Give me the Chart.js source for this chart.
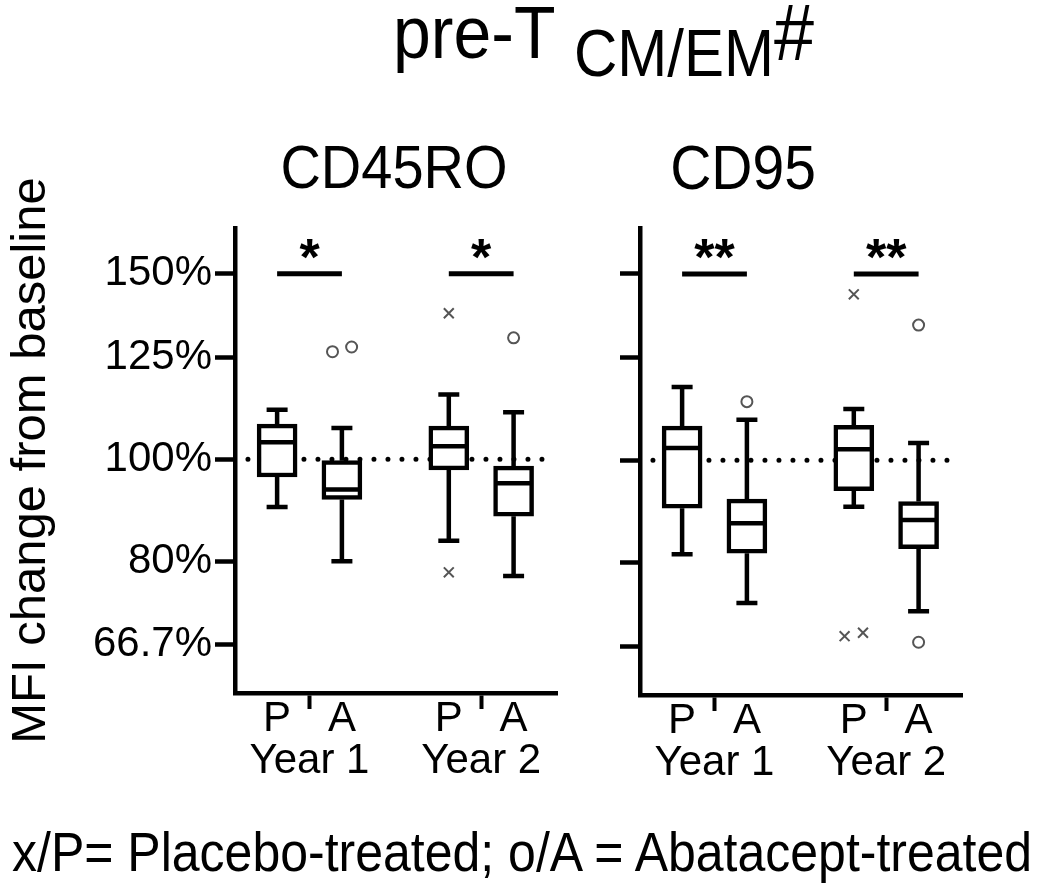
<!DOCTYPE html>
<html>
<head>
<meta charset="utf-8">
<script src="https://cdn.jsdelivr.net/npm/chart.js@4.4.1/dist/chart.umd.min.js"></script>
<style>
body { margin: 0; background: #fff; font-family: "Liberation Sans", Arial, sans-serif; }
#page { position: relative; width: 1050px; height: 888px; overflow: hidden; background: #fff; }
.txt { position: absolute; white-space: nowrap; line-height: 1; color: #000; transform-origin: 0 85%; transform: scaleY(1.1); }
.ctr { transform-origin: 50% 85%; transform: translateX(-50%) scaleY(1.1); }
canvas { position: absolute; }
</style>
</head>
<body>
<div id="page">
  <canvas id="cd45" width="580" height="660" style="left:0px;top:140px"></canvas>
  <canvas id="cd95" width="400" height="660" style="left:590px;top:140px"></canvas>

  <div class="txt" style="left:393px;top:0px;font-size:68px">pre-T</div>
  <div class="txt" style="left:574px;top:26px;font-size:60px">CM/EM</div>
  <div class="txt" style="left:774px;top:-1px;font-size:72px">#</div>

  <div class="txt ctr" style="left:394px;top:141px;font-size:56px">CD45RO</div>
  <div class="txt ctr" style="left:743px;top:141px;font-size:57px">CD95</div>

  <div class="txt" style="left:12px;top:829px;font-size:50px">x/P= Placebo-treated; o/A = Abatacept-treated</div>
</div>

<script>
// box order: Year 1 P, Year 1 A, Year 2 P, Year 2 A
const xPos = [0, 1, 2.65, 3.65];
const xTickVals = [0, 0.5, 1, 2.65, 3.15, 3.65];
const xTickLabels = ['P', ['', 'Year 1'], 'A', 'P', ['', 'Year 2'], 'A'];
const xTickMarks = [false, true, false, false, true, false];
const yTickVals = [2 / 3, 0.8, 1, 1.25, 1.5];
const yTickLabels = ['66.7%', '80%', '100%', '125%', '150%'];
const sigPairs = [[0, 1], [2.65, 3.65]];
const sigLevel = 1.5;

// CD45RO
const cd45Min = [0.901, 0.800, 0.837, 0.775];
const cd45Q1  = [0.962, 0.916, 0.977, 0.883];
const cd45Med = [1.038, 0.936, 1.029, 0.949];
const cd45Q3  = [1.080, 0.997, 1.075, 0.985];
const cd45Max = [1.114, 1.071, 1.152, 1.108];
const cd45PlaceboOut = [{x: 2.65, y: 1.376}, {x: 2.65, y: 0.781}];
const cd45AbataOut = [{x: 0.855, y: 1.265}, {x: 1.15, y: 1.278}, {x: 3.65, y: 1.304}];
const cd45Stars = ['*', '*'];

// CD95
const cd95Min = [0.815, 0.733, 0.904, 0.720];
const cd95Q1  = [0.901, 0.817, 0.936, 0.825];
const cd95Med = [1.027, 0.872, 1.024, 0.878];
const cd95Q3  = [1.077, 0.919, 1.079, 0.914];
const cd95Max = [1.173, 1.092, 1.118, 1.038];
const cd95PlaceboOut = [{x: 2.65, y: 1.435}, {x: 2.508, y: 0.682}, {x: 2.792, y: 0.687}];
const cd95AbataOut = [{x: 1, y: 1.136}, {x: 3.65, y: 1.342}, {x: 3.65, y: 0.673}];
const cd95Stars = ['**', '**'];

const FONT = '"Liberation Sans", Arial, sans-serif';

function boxExtras(min, med, max, stars) {
  return {
    id: 'boxExtras',
    afterDatasetsDraw(chart) {
      const ctx = chart.ctx;
      const x = chart.scales.x, y = chart.scales.y;
      ctx.save();
      ctx.strokeStyle = '#000';
      ctx.fillStyle = '#000';
      ctx.lineWidth = 4.5;
      xPos.forEach(function(v, i) {
        const px = x.getPixelForValue(v);
        const q1 = y.getPixelForValue(chart.data.datasets[1].data[i].y[0]);
        const q3 = y.getPixelForValue(chart.data.datasets[1].data[i].y[1]);
        const lo = y.getPixelForValue(min[i]);
        const hi = y.getPixelForValue(max[i]);
        const md = y.getPixelForValue(med[i]);
        ctx.beginPath();
        ctx.moveTo(px, q3); ctx.lineTo(px, hi);
        ctx.moveTo(px - 10.5, hi); ctx.lineTo(px + 10.5, hi);
        ctx.moveTo(px, q1); ctx.lineTo(px, lo);
        ctx.moveTo(px - 10.5, lo); ctx.lineTo(px + 10.5, lo);
        ctx.moveTo(px - 18, md); ctx.lineTo(px + 18, md);
        ctx.stroke();
      });
      ctx.lineWidth = 5;
      ctx.font = 'bold 52px ' + FONT;
      ctx.textAlign = 'center';
      ctx.textBaseline = 'alphabetic';
      sigPairs.forEach(function(pr, k) {
        const x0 = x.getPixelForValue(pr[0]);
        const x1 = x.getPixelForValue(pr[1]);
        const yy = y.getPixelForValue(sigLevel);
        ctx.beginPath();
        ctx.moveTo(x0, yy); ctx.lineTo(x1, yy);
        ctx.stroke();
        ctx.fillText(stars[k], (x0 + x1) / 2, yy + 1);
      });
      ctx.restore();
    }
  };
}

function makeChart(id, q1, med, q3, min, max, pOut, aOut, stars, showLabels, yWidth, xHeight, padRight) {
  const boxes = xPos.map(function(v, i) { return {x: v, y: [q1[i], q3[i]]}; });
  return new Chart(document.getElementById(id), {
    type: 'bar',
    data: {
      datasets: [
        {
          type: 'line',
          data: [{x: -0.45, y: 1}, {x: 4.1, y: 1}],
          borderColor: '#000',
          borderWidth: 5,
          borderDash: [0, 14],
          borderCapStyle: 'round',
          pointRadius: 0,
          order: 3
        },
        {
          type: 'bar',
          data: boxes,
          backgroundColor: '#fff',
          borderColor: '#000',
          borderWidth: 4.5,
          borderSkipped: false,
          barThickness: 40,
          order: 2
        },
        {
          type: 'scatter',
          data: pOut,
          pointStyle: 'crossRot',
          pointRadius: 7,
          borderColor: '#555',
          borderWidth: 2,
          order: 1
        },
        {
          type: 'scatter',
          data: aOut,
          pointStyle: 'circle',
          pointRadius: 5.5,
          backgroundColor: '#fff',
          borderColor: '#555',
          borderWidth: 2,
          order: 1
        }
      ]
    },
    options: {
      responsive: false,
      animation: false,
      events: [],
      layout: { padding: { left: 0, right: padRight, top: 88, bottom: 0 } },
      plugins: { legend: { display: false }, tooltip: { enabled: false } },
      scales: {
        x: {
          type: 'linear',
          min: -0.65,
          max: 4.32,
          offset: false,
          afterBuildTicks: function(scale) {
            scale.ticks = xTickVals.map(function(v) { return {value: v}; });
          },
          afterFit: function(scale) { scale.height = xHeight; },
          grid: {
            offset: false,
            drawOnChartArea: false,
            tickLength: 16,
            tickWidth: 4,
            tickColor: function(c) { return xTickMarks[c.index] ? '#000' : 'rgba(0,0,0,0)'; }
          },
          border: { display: true, color: '#000', width: 4.5 },
          ticks: {
            autoSkip: false,
            maxRotation: 0,
            padding: -10.5,
            color: '#000',
            font: { family: FONT, size: 42, lineHeight: 1.0 },
            callback: function(v, i) { return xTickLabels[i]; }
          }
        },
        y: {
          type: 'logarithmic',
          min: 0.6085,
          max: 1.6577,
          afterBuildTicks: function(scale) {
            scale.ticks = yTickVals.map(function(v) { return {value: v}; });
          },
          afterFit: function(scale) { scale.width = yWidth; },
          grid: {
            drawOnChartArea: false,
            tickLength: 20,
            tickWidth: 4.5,
            tickColor: '#000'
          },
          border: { display: true, color: '#000', width: 4.5 },
          title: {
            display: showLabels,
            text: 'MFI change from baseline',
            color: '#000',
            padding: { top: 2, bottom: 0 },
            font: { family: FONT, size: 49, lineHeight: 1.2 }
          },
          ticks: {
            padding: 3,
            color: '#000',
            font: { family: FONT, size: 42 },
            callback: function(v, i) { return showLabels ? yTickLabels[i] : ''; }
          }
        }
      }
    },
    plugins: [boxExtras(min, med, max, stars)]
  });
}

makeChart('cd45', cd45Q1, cd45Med, cd45Q3, cd45Min, cd45Max, cd45PlaceboOut, cd45AbataOut, cd45Stars, true, 235, 107, 23);
makeChart('cd95', cd95Q1, cd95Med, cd95Q3, cd95Min, cd95Max, cd95PlaceboOut, cd95AbataOut, cd95Stars, false, 50, 105, 28);
</script>
</body>
</html>
